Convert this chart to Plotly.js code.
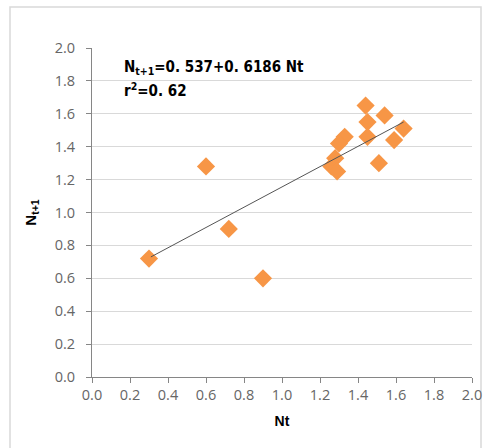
<!DOCTYPE html>
<html>
<head>
<meta charset="utf-8">
<script src="https://cdn.plot.ly/plotly-3.0.1.min.js"></script>
<style>
html,body{margin:0;padding:0;background:#fff;}
#chart{width:497px;height:448px;}
</style>
</head>
<body>
<div id="chart"></div>
<script>
// Observed data (Nt, Nt+1)
var nt = [0.30, 0.60, 0.72, 0.90, 1.44, 1.54, 1.45, 1.64, 1.33, 1.30, 1.45, 1.59, 1.28, 1.26, 1.29, 1.51];
var nt1 = [0.72, 1.28, 0.90, 0.60, 1.65, 1.59, 1.55, 1.51, 1.46, 1.42, 1.46, 1.44, 1.33, 1.28, 1.25, 1.30];
// Trend line endpoints
var trendX = [0.31, 1.64];
var trendY = [0.73, 1.55];
var tickVals = [0, 0.2, 0.4, 0.6, 0.8, 1.0, 1.2, 1.4, 1.6, 1.8, 2.0];
var tickText = ["0.0","0.2","0.4","0.6","0.8","1.0","1.2","1.4","1.6","1.8","2.0"];
var eqLine1 = '<b>N<sub>t+1</sub>=0. 537+0. 6186 Nt</b>';
var eqLine2 = '<b>r<sup>2</sup>=0. 62</b>';

var axisCommon = {
  range: [0, 2],
  tickvals: tickVals,
  ticktext: tickText,
  ticks: 'outside',
  ticklen: 5,
  tickcolor: '#868686',
  showline: true,
  linecolor: '#868686',
  linewidth: 1,
  zeroline: false,
  tickfont: {family: 'Open Sans, Liberation Sans, sans-serif', size: 14.5, color: '#666666'}
};

var traces = [
  {
    x: nt, y: nt1, type: 'scatter', mode: 'markers',
    marker: {symbol: 'diamond', size: 14, color: '#F79646'},
    hoverinfo: 'skip'
  },
  {
    x: trendX, y: trendY, type: 'scatter', mode: 'lines',
    line: {color: '#555555', width: 1},
    hoverinfo: 'skip'
  }
];

var eqFont = {family: 'DejaVu Sans Condensed, sans-serif', size: 15, color: '#000'};

var layout = {
  width: 497, height: 448,
  margin: {l: 92, r: 25, t: 48, b: 71},
  paper_bgcolor: '#ffffff',
  plot_bgcolor: '#ffffff',
  showlegend: false,
  xaxis: Object.assign({}, axisCommon, {
    showgrid: false,
    title: {text: '<b>Nt</b>', font: {family: 'Liberation Sans, Arial, sans-serif', size: 14, color: '#000'}, standoff: 12}
  }),
  yaxis: Object.assign({}, axisCommon, {
    showgrid: true,
    gridcolor: '#d9d9d9',
    gridwidth: 1,
    ticklabelstandoff: 8,
    title: {text: '<b>N<sub>t+1</sub></b>', font: {family: 'Liberation Sans, Arial, sans-serif', size: 15, color: '#000'}, standoff: 14}
  }),
  annotations: [
    {
      xref: 'paper', yref: 'paper', x: 0.08, y: 0.942, xanchor: 'left', yanchor: 'middle',
      align: 'left', showarrow: false, text: eqLine1, font: eqFont
    },
    {
      xref: 'paper', yref: 'paper', x: 0.08, y: 0.872, xanchor: 'left', yanchor: 'middle',
      align: 'left', showarrow: false, text: eqLine2, font: eqFont
    }
  ],
  shapes: [
    {
      type: 'rect', xref: 'paper', yref: 'paper',
      x0: -0.2158, x1: 1.0237, y0: -0.25, y1: 1.1246,
      line: {color: '#d9d9d9', width: 1.5}, fillcolor: 'rgba(0,0,0,0)', layer: 'below'
    }
  ]
};

Plotly.newPlot('chart', traces, layout, {staticPlot: true, displayModeBar: false});
</script>
</body>
</html>
